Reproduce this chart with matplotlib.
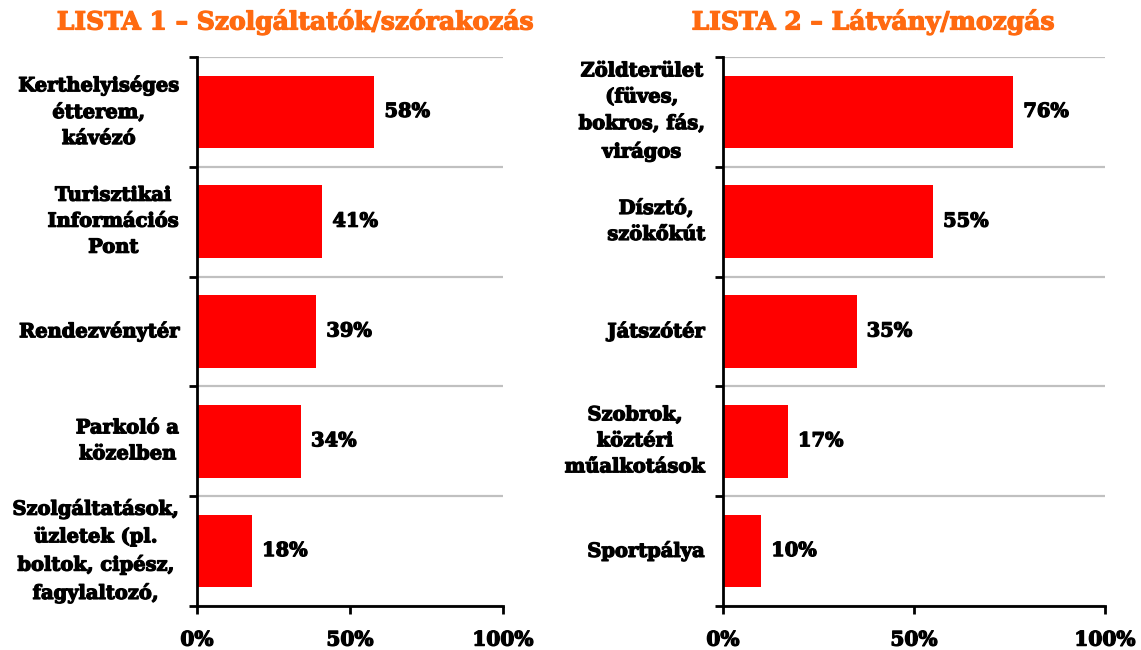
import matplotlib
matplotlib.use("Agg")
import matplotlib.pyplot as plt
import matplotlib.patheffects as pe
import numpy as np

title1 = "LISTA 1 – Szolgáltatók/szórakozás"
cats1 = ["Kerthelyiséges\nétterem,\nkávézó", "Turisztikai\nInformációs\nPont",
         "Rendezvénytér", "Parkoló a\nközelben",
         "Szolgáltatások,\nüzletek (pl.\nboltok, cipész,\nfagylaltozó,"]
vals1 = [58, 41, 39, 34, 18]

title2 = "LISTA 2 – Látvány/mozgás"
cats2 = ["Zöldterület\n(füves,\nbokros, fás,\nvirágos", "Dísztó,\nszökőkút",
         "Játszótér", "Szobrok,\nköztéri\nműalkotások", "Sportpálya"]
vals2 = [76, 55, 35, 17, 10]

xticks = [0, 50, 100]
xticklabels = ["0%", "50%", "100%"]

FONT = "DejaVu Serif"
plt.rcParams['font.family'] = FONT
plt.rcParams['font.weight'] = 'bold'

def heavy(color):
    return [pe.withStroke(linewidth=0.9, foreground=color)]

fig = plt.figure(figsize=(11.41, 6.5), dpi=100)
ax1 = fig.add_axes([197/1141, 1-606/650, 306/1141, 549/650])
ax2 = fig.add_axes([723/1141, 1-606/650, 382/1141, 549/650])

ORANGE = "#FF6A10"

def draw(ax, cats, vals, title, title_x):
    y = np.arange(len(cats))
    ax.barh(y, vals, height=0.66, color="#FF0000", zorder=3)
    ax.set_xlim(0, 100)
    ax.set_ylim(len(cats) - 0.5, -0.5)
    ax.set_yticks(y)
    ax.set_yticklabels(cats, fontsize=14, fontweight='bold',
                       multialignment='center', linespacing=1.57)
    for t in ax.get_yticklabels():
        t.set_path_effects(heavy('black'))
        t.set_va('center')
    ax.tick_params(axis='y', which='major', length=0, pad=13)
    bounds = np.arange(len(cats) + 1) - 0.5
    ax.set_yticks(bounds, minor=True)
    ax.tick_params(axis='y', which='minor', length=6, width=2, direction='out')
    ax.grid(True, which='minor', axis='y', color="#C0C0C0", linewidth=1.6, zorder=1)
    ax.set_xticks(xticks)
    ax.set_xticklabels(xticklabels, fontsize=14.5, fontweight='bold')
    for t in ax.get_xticklabels():
        t.set_path_effects(heavy('black'))
    ax.tick_params(axis='x', length=6, width=2, direction='out', pad=11)
    for s in ['top', 'right']:
        ax.spines[s].set_visible(False)
    for s in ['left', 'bottom']:
        ax.spines[s].set_linewidth(2)
        ax.spines[s].set_zorder(4)
    pxw = ax.get_position().width * 1141
    for yi, v in zip(y, vals):
        ax.text(v + 10 * 100 / pxw, yi, f"{v}%",
                va='center', ha='left', fontsize=14, fontweight='bold',
                path_effects=heavy('black'))
    fig.text(title_x / 1141, 1 - 22 / 650, title, color=ORANGE, fontsize=18,
             fontweight='bold', ha='center', va='center',
             path_effects=heavy(ORANGE))

draw(ax1, cats1, vals1, title1, 295)
draw(ax2, cats2, vals2, title2, 873)

fig.savefig("out.png", dpi=100)
